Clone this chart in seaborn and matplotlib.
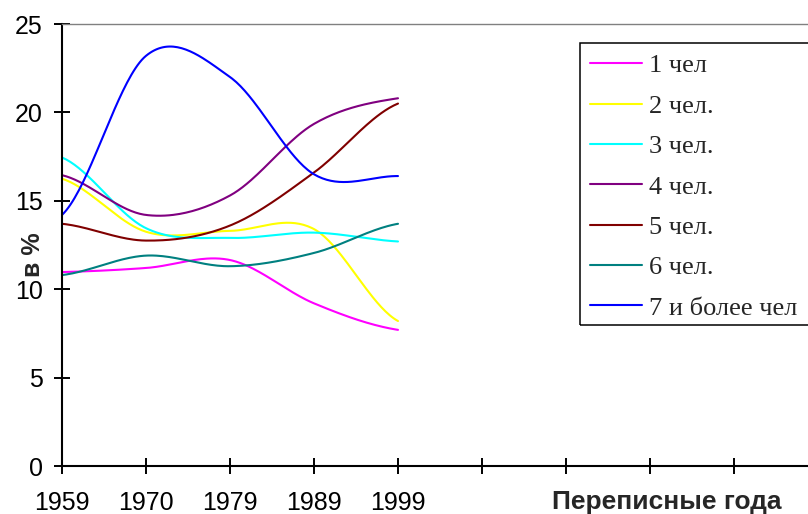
import numpy as np
import pandas as pd
import matplotlib
matplotlib.use("Agg")
import matplotlib.pyplot as plt
import seaborn as sns
from matplotlib.patches import Rectangle
from matplotlib.lines import Line2D

# Census years and household-size shares, %
years = ["1959", "1970", "1979", "1989", "1999"]
series_names = ["1 чел", "2 чел.", "3 чел.", "4 чел.", "5 чел.", "6 чел.", "7 и более чел"]
one_person = [10.97, 11.2, 11.65, 9.2, 7.7]
two_persons = [16.25, 13.25, 13.3, 13.4, 8.2]
three_persons = [17.45, 13.45, 12.9, 13.2, 12.7]
four_persons = [16.45, 14.2, 15.3, 19.35, 20.8]
five_persons = [13.7, 12.75, 13.6, 16.6, 20.5]
six_persons = [10.8, 11.9, 11.3, 12.05, 13.7]
seven_plus = [14.2, 23.2, 22.0, 16.5, 16.4]
colors = ["#FF00FF", "#FFFF00", "#00FFFF", "#800080", "#800000", "#008080", "#0000FF"]

all_series = [one_person, two_persons, three_persons, four_persons,
              five_persons, six_persons, seven_plus]


def smooth_curve(vals, steps=40):
    """Cardinal (Catmull-Rom) spline through the points, as used for smoothed lines."""
    p = np.asarray(vals, dtype=float)
    n = len(p)
    m = np.empty(n)
    m[1:-1] = (p[2:] - p[:-2]) / 2.0
    m[0] = (p[1] - p[0]) / 2.0
    m[-1] = (p[-1] - p[-2]) / 2.0
    t = np.linspace(0, 1, steps, endpoint=False)
    h00 = 2 * t**3 - 3 * t**2 + 1
    h10 = t**3 - 2 * t**2 + t
    h01 = -2 * t**3 + 3 * t**2
    h11 = t**3 - t**2
    xs, ys = [], []
    for i in range(n - 1):
        xs.append(i + t)
        ys.append(h00 * p[i] + h10 * m[i] + h01 * p[i + 1] + h11 * m[i + 1])
    xs.append(np.array([n - 1.0]))
    ys.append(np.array([p[-1]]))
    return np.concatenate(xs), np.concatenate(ys)


frames = []
for name, vals in zip(series_names, all_series):
    x, y = smooth_curve(vals)
    frames.append(pd.DataFrame({"x": x, "y": y, "series": name}))
df = pd.concat(frames, ignore_index=True)

sns.set_style("white")
plt.rcParams["font.family"] = ["Liberation Sans", "DejaVu Sans"]

W, H = 808, 514
fig = plt.figure(figsize=(W / 100, H / 100), dpi=100)
px = 84.0  # category spacing in pixels
ax = fig.add_axes([62 / W, (H - 466) / H, 9 * px / W, (466 - 24) / H])

sns.lineplot(data=df, x="x", y="y", hue="series", palette=colors,
             hue_order=series_names, estimator=None, sort=False,
             linewidth=1.5, legend=False, ax=ax)

ax.set_xlim(0, 9)
ax.set_ylim(0, 25)
ax.set_xticks(range(9))
ax.set_xticklabels(years + [""] * 4)
ax.set_yticks([0, 5, 10, 15, 20, 25])
ax.set_yticklabels(["0", "5", "10", "15", "20", "25"])
ax.tick_params(axis="both", which="major", bottom=True, left=True,
               direction="inout", length=12, width=1.4,
               color="black", labelsize=18, labelcolor="black")
ax.tick_params(axis="x", pad=12)
ax.tick_params(axis="y", pad=8)

for side in ("left", "bottom"):
    ax.spines[side].set_color("black")
    ax.spines[side].set_linewidth(1.5)
ax.spines["top"].set_color("#808080")
ax.spines["top"].set_linewidth(1.0)
ax.spines["right"].set_visible(False)

ax.set_xlabel("")
ax.set_ylabel("")
fig.text(33 / W, 1 - 255 / H, "в %", rotation=90, fontsize=18,
         fontweight="bold", ha="center", va="center")
fig.text(667 / W, 1 - 502 / H, "Переписные года", fontsize=19,
         fontweight="bold", ha="center", va="center")

# Legend: frame drawn separately so it can run past the right edge
fig.patches.append(Rectangle((580 / W, 1 - 325 / H), 250 / W, (325 - 43) / H,
                             transform=fig.transFigure, fill=False,
                             edgecolor="black", linewidth=1.1))
handles = [Line2D([], [], color=c, linewidth=1.5) for c in colors]
fig.legend(handles, series_names, loc="upper left",
           bbox_to_anchor=(590 / W, 1 - 54 / H), bbox_transform=fig.transFigure,
           frameon=False, prop={"family": "Liberation Serif", "size": 19},
           handlelength=1.97, handletextpad=0.27, labelspacing=0.64,
           borderpad=0, borderaxespad=0)

fig.savefig("out.png", dpi=100)
